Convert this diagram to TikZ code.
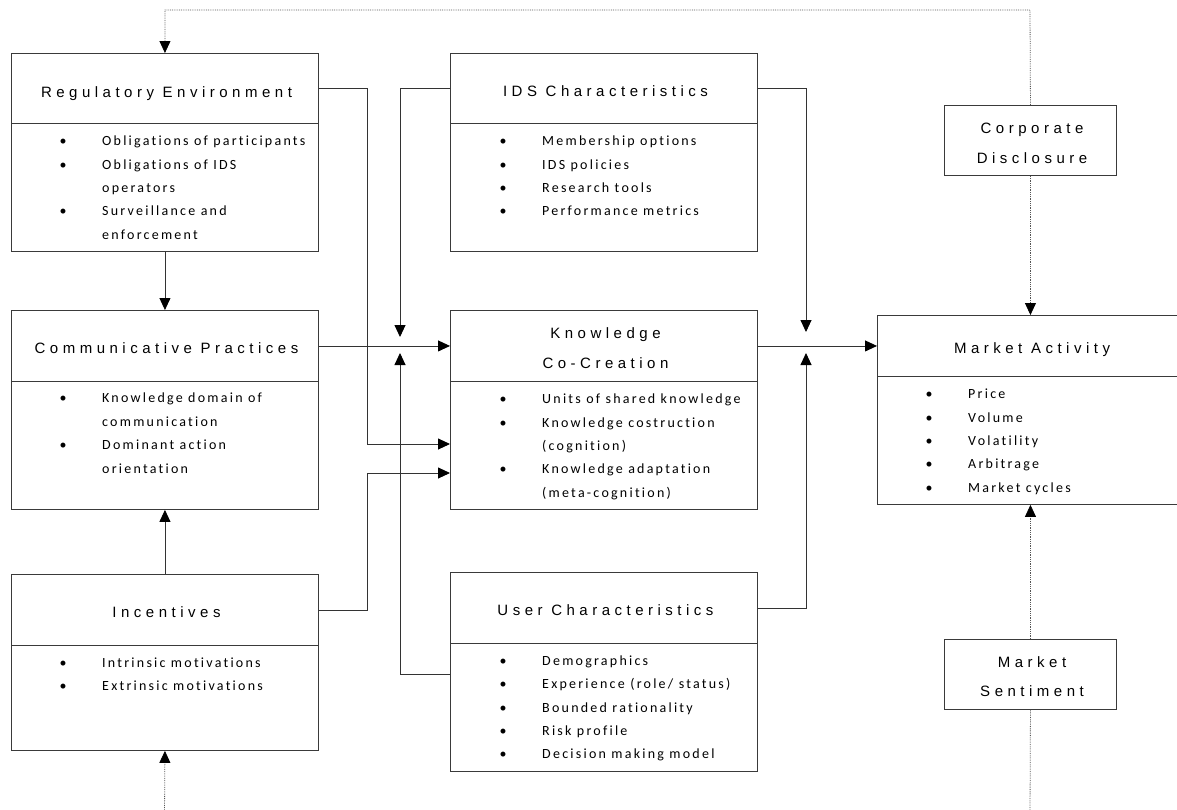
\documentclass[tikz,border=0pt]{standalone}
\usepackage{fontspec}
\setmainfont{Liberation Sans}
\newfontfamily\titlefont{Liberation Sans}[LetterSpace=30]
\newfontfamily\itemfont{Carlito}[LetterSpace=16,Ligatures=NoCommon]
\usetikzlibrary{arrows.meta,calc}
\definecolor{boxc}{HTML}{3A3A3A}
\definecolor{linec}{HTML}{333333}
\definecolor{dotc}{HTML}{555555}
\tikzset{
  box/.style={draw=boxc, line width=0.9pt, inner sep=0pt, anchor=north west, minimum width=307pt},
  ttl/.style={font=\titlefont\fontsize{15}{18}\selectfont, text height=11pt, text depth=0pt, inner sep=0pt, anchor=center, xshift=2pt},
  itm/.style={font=\itemfont\fontsize{14}{17}\selectfont, text height=10pt, text depth=3pt, inner sep=0pt, anchor=west},
  bul/.style={font=\itemfont\fontsize{14}{16}\selectfont, text height=10pt, text depth=3pt, inner sep=0pt, anchor=center},
  conn/.style={draw=linec, line width=0.9pt, -{Triangle[length=12pt,width=11pt,color=black]}},
  dline/.style={draw=dotc, line width=0.8pt, densely dotted},
  dconn/.style={dline, -{Triangle[length=12pt,width=11pt,color=black]}}
}
\newcommand\bitem[4]{\node[bul] (#1b) at (#2,#3) {\textbullet}; \node[itm] (#1) at (#2+39,#3) {#4};}
\newcommand\citem[4]{\node[itm] (#1) at (#2+39,#3) {#4};}
\begin{document}
\begin{tikzpicture}[x=1pt,y=-1pt]
\fill[white] (0,0) rectangle (1177,809);
\useasboundingbox (0,0) rectangle (1177,809);

% boxes
\node[box, minimum height=70pt] (REh) at (11,53) {};
\node[box, minimum height=128pt] (REb) at (11,123) {};
\node[box, minimum height=70pt] (IDSh) at (450,53) {};
\node[box, minimum height=128pt] (IDSb) at (450,123) {};
\node[box, minimum height=71pt] (CPh) at (11,310) {};
\node[box, minimum height=128pt] (CPb) at (11,381) {};
\node[box, minimum height=71pt] (KCh) at (450,310) {};
\node[box, minimum height=128pt] (KCb) at (450,381) {};
\node[box, minimum width=306pt, minimum height=61pt] (MAh) at (877,315) {};
\node[box, minimum width=306pt, minimum height=128pt] (MAb) at (877,376) {};
\node[box, minimum height=71pt] (INh) at (11,574) {};
\node[box, minimum height=105pt] (INb) at (11,645) {};
\node[box, minimum height=71pt] (UCh) at (450,572) {};
\node[box, minimum height=128pt] (UCb) at (450,643) {};
\node[box, minimum width=172pt, minimum height=70pt] (CD) at (944,105) {};
\node[box, minimum width=172pt, minimum height=70pt] (MS) at (944,639) {};

% titles
\node[ttl] (REt) at (164.5,91.5) {Regulatory Environment};
\node[ttl] (IDSt) at (603.5,91) {IDS Characteristics};
\node[ttl] (CPt) at (164.5,348) {Communicative Practices};
\node[ttl] (KCt1) at (603.5,333) {Knowledge};
\node[ttl] (KCt2) at (603.5,363.3) {Co-Creation};
\node[ttl] (MAt) at (1030,348.3) {Market Activity};
\node[ttl] (INt) at (164.5,611.7) {Incentives};
\node[ttl] (UCt) at (603.5,609.7) {User Characteristics};
\node[ttl] (CDt1) at (1030,128) {Corporate};
\node[ttl] (CDt2) at (1030,157.5) {Disclosure};
\node[ttl] (MSt1) at (1030,662) {Market};
\node[ttl] (MSt2) at (1030,691) {Sentiment};

% items
\bitem{re1}{63}{142}{Obligations of participants}
\bitem{re2}{63}{165.5}{Obligations of IDS}
\citem{re3}{63}{189}{operators}
\bitem{re4}{63}{212}{Surveillance and}
\citem{re5}{63}{235.5}{enforcement}

\bitem{id1}{503}{142}{Membership options}
\bitem{id2}{503}{165.5}{IDS policies}
\bitem{id3}{503}{189}{Research tools}
\bitem{id4}{503}{212}{Performance metrics}

\bitem{cp1}{63}{399}{Knowledge domain of}
\citem{cp2}{63}{422.5}{communication}
\bitem{cp3}{63}{446}{Dominant action}
\citem{cp4}{63}{470}{orientation}

\bitem{kc1}{503}{400}{Units of shared knowledge}
\bitem{kc2}{503}{423.5}{Knowledge costruction}
\citem{kc3}{503}{447}{(cognition)}
\bitem{kc4}{503}{470}{Knowledge adaptation}
\citem{kc5}{503}{493.5}{(meta-cognition)}

\bitem{ma1}{929}{395}{Price}
\bitem{ma2}{929}{418.5}{Volume}
\bitem{ma3}{929}{442}{Volatility}
\bitem{ma4}{929}{465}{Arbitrage}
\bitem{ma5}{929}{488.5}{Market cycles}

\bitem{in1}{63}{664}{Intrinsic motivations}
\bitem{in2}{63}{687}{Extrinsic motivations}

\bitem{uc1}{503}{662}{Demographics}
\bitem{uc2}{503}{685}{Experience (role/ status)}
\bitem{uc3}{503}{708.5}{Bounded rationality}
\bitem{uc4}{503}{732}{Risk profile}
\bitem{uc5}{503}{754.5}{Decision making model}

% connectors
\coordinate (j1) at (367,444);
\coordinate (j2) at (367,473);
\coordinate (t1) at (400,337);
\coordinate (u1) at (400,674);
\coordinate (t2) at (400,353);
\coordinate (t3) at (806,332);
\coordinate (t4) at (806,353);
\coordinate (topR) at (1030,10);
\coordinate (botR) at (1030,815);
\coordinate (botL) at (164.5,815);

\draw[conn] (REb.south) -- (CPh.north);
\draw[conn] (INh.north) -- (CPb.south);
\draw[conn] (REh.east) -| (j1) -- (j1 -| KCb.west);
\draw[conn] (INh.east) -| (j2) -- (j2 -| KCb.west);
\draw[conn] (CPh.east) -- (KCh.west);
\draw[conn] (IDSh.west) -| (t1);
\draw[conn] (u1 -| UCb.west) -- (u1) -- (t2);
\draw[conn] (KCh.east) -- (MAh.west);
\draw[conn] (IDSh.east) -| (t3);
\draw[conn] (UCh.east) -| (t4);

\draw[dconn] (CD.north) -- (topR) -| (REh.north);
\draw[dconn] (CD.south) -- (MAh.north);
\draw[dconn] (MS.north) -- (MAb.south);
\draw[dline] (MS.south) -- (botR);
\draw[dconn] (botL) -- (INb.south);
\end{tikzpicture}
\end{document}
